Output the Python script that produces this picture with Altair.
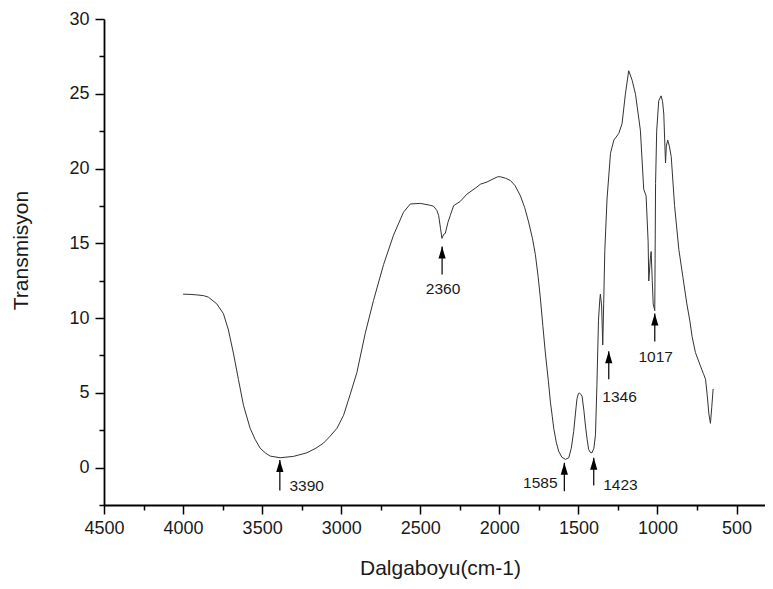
import altair as alt
import pandas as pd

# Spectrum (wavenumber cm-1, transmission)
wavenumber = [4000, 3950, 3913, 3870, 3840, 3787, 3745, 3713, 3682, 3650, 3618, 3576, 3545, 3513, 3480, 3449,
              3386, 3302, 3217, 3160, 3112, 3070, 3027, 2985, 2943, 2901, 2848, 2796, 2732, 2669, 2606, 2563,
              2500, 2440, 2416, 2395, 2384, 2372, 2363, 2352, 2342, 2325, 2310, 2289, 2247, 2205, 2150, 2120,
              2078, 2040, 2010, 1994, 1960, 1930, 1900, 1867, 1840, 1815, 1790, 1772, 1755, 1741, 1725, 1709,
              1690, 1677, 1665, 1656, 1640, 1625, 1605, 1582, 1561, 1545, 1530, 1515, 1509, 1500, 1494, 1485,
              1477, 1465, 1456, 1445, 1435, 1425, 1414, 1402, 1392, 1383, 1373, 1365, 1361, 1353, 1346, 1340,
              1333, 1319, 1297, 1276, 1245, 1224, 1203, 1182, 1160, 1139, 1108, 1087, 1072, 1059, 1055, 1045,
              1040, 1033, 1027, 1017, 1015, 1012, 1005, 992, 977, 968, 960, 953, 949, 944, 935, 925, 913, 892,
              865, 840, 815, 795, 781, 760, 728, 710, 696, 685, 675, 665, 657, 648]
transmission = [11.6, 11.58, 11.55, 11.5, 11.4, 10.95, 10.3, 9.2, 7.67, 5.9, 4.17, 2.63, 1.9, 1.31, 0.98, 0.77,
                0.66, 0.75, 0.99, 1.3, 1.64, 2.1, 2.63, 3.5, 4.9, 6.35, 8.98, 11.17, 13.58, 15.55, 17.08, 17.63,
                17.67, 17.55, 17.48, 17.2, 16.87, 16.0, 15.33, 15.6, 15.66, 16.4, 16.87, 17.52, 17.8, 18.29, 18.7, 18.95,
                19.1, 19.3, 19.45, 19.45, 19.35, 19.2, 18.85, 18.18, 17.4, 16.43, 15.3, 14.24, 12.8, 11.4, 9.5, 7.67,
                5.8, 4.38, 3.4, 2.63, 1.7, 1.1, 0.7, 0.55, 0.66, 1.3, 2.41, 4.0, 4.6, 4.95, 5.0, 4.9,
                4.78, 3.8, 2.85, 1.9, 1.21, 1.02, 0.99, 1.3, 2.19, 5.48, 9.86, 11.2, 11.6, 10.8, 8.2, 11.0,
                14.5, 17.96, 21.02, 21.9, 22.34, 23.0, 24.97, 26.54, 25.9, 24.97, 22.56, 18.62, 18.18, 15.11, 12.48, 14.0,
                14.45, 12.5, 10.95, 10.5, 14.0, 19.0, 22.5, 24.53, 24.86, 24.5, 23.65, 21.5, 20.37, 21.5, 21.9, 21.5, 20.8, 17.52,
                14.6, 12.8, 11.0, 9.8, 8.76, 7.7, 6.79, 6.3, 5.91, 4.8, 3.6, 2.96, 4.0, 5.26]

# Peak annotations
peak_labels = ["3390", "2360", "1585", "1423", "1346", "1017"]
arrow_x = [3388, 2362, 1589, 1403, 1308, 1017]
arrow_tip = [0.51, 14.78, 0.33, 0.66, 7.78, 10.3]
arrow_base = [-1.53, 12.92, -1.58, -1.2, 5.91, 8.44]
label_x = [3218, 2356, 1741, 1234, 1240, 1011]
label_y = [-1.2, 11.94, -1.05, -1.16, 4.71, 7.4]

x_major = [4500, 4000, 3500, 3000, 2500, 2000, 1500, 1000, 500]
x_minor = [4250, 3750, 3250, 2750, 2250, 1750, 1250, 750]
y_major = [0, 5, 10, 15, 20, 25, 30]
y_minor = [-2.5, 2.5, 7.5, 12.5, 17.5, 22.5, 27.5]

spec = pd.DataFrame({"wn": wavenumber, "T": transmission})
ann = pd.DataFrame({"lab": peak_labels, "ax": arrow_x, "tip": arrow_tip, "base": arrow_base,
                    "lx": label_x, "ly": label_y})

W, H = 661, 486
FONT = "Liberation Sans"
xscale = alt.Scale(domain=[320, 4500], reverse=True, nice=False, zero=False)
yscale = alt.Scale(domain=[-2.5, 30], nice=False, zero=False)

major_x_axis = alt.Axis(values=x_major, format="d", orient="bottom", tickSize=9, tickWidth=1.5, tickColor="black",
                        domainColor="black", domainWidth=1.8, labelFontSize=18, labelColor="#1a1a1a",
                        labelPadding=5, grid=False, title="Dalgaboyu(cm-1)", titleFontSize=21,
                        titleFontWeight="normal", titleColor="#1a1a1a", titleX=336, titleY=63,
                        titleBaseline="middle", titleAlign="center", labelFlush=False, labelOverlap=False)
major_y_axis = alt.Axis(values=y_major, format="d", orient="left", tickSize=9, tickWidth=1.5, tickColor="black",
                        domainColor="black", domainWidth=1.8, labelFontSize=18, labelColor="#1a1a1a",
                        labelPadding=6, grid=False, title="Transmisyon", titleFontSize=21,
                        titleFontWeight="normal", titleColor="#1a1a1a", titleX=-83, titleY=231,
                        titleBaseline="middle", titleAlign="center", labelFlush=False, labelOverlap=False)
minor_x_axis = alt.Axis(values=x_minor, orient="bottom", tickSize=5, tickWidth=1.5, tickColor="black",
                        domain=False, labels=False, grid=False, title=None)
minor_y_axis = alt.Axis(values=y_minor, orient="left", tickSize=5, tickWidth=1.5, tickColor="black",
                        domain=False, labels=False, grid=False, title=None)

line = alt.Chart(spec).mark_line(color="#333333", strokeWidth=1).encode(
    x=alt.X("wn:Q", scale=xscale, axis=major_x_axis),
    y=alt.Y("T:Q", scale=yscale, axis=major_y_axis),
)
minor = alt.Chart(spec).mark_line(opacity=0).encode(
    x=alt.X("wn:Q", scale=xscale, axis=minor_x_axis),
    y=alt.Y("T:Q", scale=yscale, axis=minor_y_axis),
)
rules = alt.Chart(ann).mark_rule(color="black", strokeWidth=1.2).encode(
    x=alt.X("ax:Q", scale=xscale, axis=None),
    y=alt.Y("tip:Q", scale=yscale, axis=None),
    y2="base:Q",
)
heads = alt.Chart(ann).mark_point(shape="M0,-1L0.6,1L-0.6,1Z", filled=True, color="black", size=144,
                                  yOffset=6, opacity=1, strokeWidth=0).encode(
    x=alt.X("ax:Q", scale=xscale, axis=None),
    y=alt.Y("tip:Q", scale=yscale, axis=None),
)
texts = alt.Chart(ann).mark_text(font=FONT, fontSize=15.5, color="#1a1a1a", align="center",
                                 baseline="middle").encode(
    x=alt.X("lx:Q", scale=xscale, axis=None),
    y=alt.Y("ly:Q", scale=yscale, axis=None),
    text="lab:N",
)

chart = alt.layer(line, minor, rules, heads, texts).resolve_axis(
    x="independent", y="independent"
).properties(
    width=W, height=H,
    autosize=alt.AutoSizeParams(type="none"),
    padding={"left": 96, "top": 11, "right": 0, "bottom": 75},
    background="white",
).configure_view(stroke=None).configure_axis(labelFont=FONT, titleFont=FONT)

chart.save("out.html", embed_options={"renderer": "svg", "actions": False})
